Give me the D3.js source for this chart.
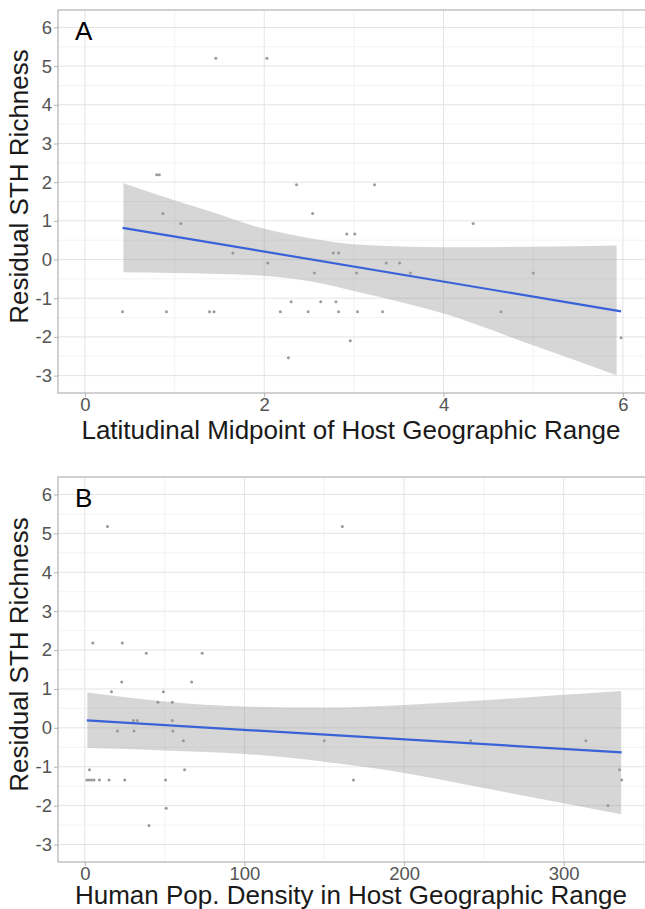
<!DOCTYPE html>
<html lang="en">
<head>
<meta charset="utf-8">
<title>Residual STH Richness</title>
<script src="https://d3js.org/d3.v7.min.js"></script>
<style type="text/css">
  body { margin: 0; background: #fff; }
  svg text { font-family: "Liberation Sans", Arial, sans-serif; }
  .tick-label { fill: #555555; font-size: 18.5px; }
  .axis-title { fill: #1a1a1a; font-size: 26px; }
  .tag { fill: #000; font-size: 26px; }
</style>
</head>
<body>
<div id="chart"></div>
<script type="text/javascript">

  // ---- data ----
  var yTicks = [-3, -2, -1, 0, 1, 2, 3, 4, 5, 6];

  // panel A: latitudinal midpoint
  var latTicks = [0, 2, 4, 6];
  var latX = [1.46, 2.03, 0.80, 0.83, 0.87, 1.07, 1.65, 2.04, 2.36, 2.54,
              2.92, 3.01, 2.77, 2.83, 2.56, 3.03, 0.42, 0.91, 1.39, 1.44,
              2.18, 2.30, 2.49, 2.63, 2.80, 2.83, 3.04, 2.96, 2.27, 3.23,
              4.33, 3.36, 3.51, 3.63, 5.00, 3.32, 4.64, 5.98];
  var latY = [5.20, 5.20, 2.19, 2.19, 1.19, 0.93, 0.17, -0.09, 1.93, 1.19,
              0.66, 0.66, 0.17, 0.17, -0.35, -0.35, -1.35, -1.35, -1.35, -1.35,
              -1.35, -1.09, -1.35, -1.09, -1.09, -1.35, -1.35, -2.10, -2.54, 1.93,
              0.93, -0.09, -0.09, -0.35, -0.35, -1.35, -1.35, -2.02];
  var latFitX = [0.42, 5.98];
  var latFitY = [0.82, -1.34];
  var latBandX  = [0.43, 0.99, 1.40, 1.99, 2.51, 3.07, 3.99, 4.99, 5.93];
  var latBandHi = [1.97, 1.54, 1.24, 0.80, 0.55, 0.38, 0.32, 0.33, 0.36];
  var latBandLo = [-0.33, -0.35, -0.37, -0.42, -0.56, -0.85, -1.39, -2.21, -2.99];

  // panel B: human population density
  var popTicks = [0, 100, 200, 300];
  var popX = [14.2, 161.3, 5.0, 23.5, 38.5, 73.5, 23.1, 66.9, 16.7, 49.2,
              45.8, 54.8, 30.4, 32.9, 54.8, 20.4, 30.8, 55.2, 61.7, 150.0,
              241.7, 313.9, 2.9, 62.5, 335.0, 1.25, 2.7, 4.2, 5.8, 9.2,
              15.2, 25.0, 50.6, 168.3, 336.3, 51.0, 327.7, 40.2];
  var popY = [5.18, 5.18, 2.18, 2.18, 1.92, 1.92, 1.18, 1.18, 0.93, 0.93,
              0.66, 0.66, 0.19, 0.19, 0.19, -0.08, -0.08, -0.08, -0.33, -0.33,
              -0.33, -0.33, -1.08, -1.08, -1.08, -1.34, -1.34, -1.34, -1.34, -1.34,
              -1.34, -1.34, -1.34, -1.34, -1.34, -2.07, -2.00, -2.51];
  var popFitX = [1.25, 336.3];
  var popFitY = [0.19, -0.63];
  var popBandX  = [1.6, 50, 100, 150, 200, 250, 300, 336];
  var popBandHi = [0.91, 0.68, 0.55, 0.52, 0.59, 0.71, 0.85, 0.95];
  var popBandLo = [-0.52, -0.58, -0.67, -0.87, -1.16, -1.55, -1.94, -2.22];

  var width = 645, height = 909;

  var svg = d3.select("#chart").append("svg")
      .attr("width", width)
      .attr("height", height)
      .attr("viewBox", [0, 0, width, height]);

  // plain numbers with a hyphen for negatives, like the original
  var fmt = d => String(d);

  function drawPanel(p) {
    var left = 58, right = 648;
    var x = d3.scaleLinear().domain(p.xDomain).range([left, right]);
    var y = d3.scaleLinear().domain([-3.45, 6.45]).range([p.bottom, p.top]);

    var g = svg.append("g");

    // minor grid
    g.selectAll(".ymin").data(d3.range(-2.5, 6, 1)).enter().append("line")
      .attr("x1", left).attr("x2", right)
      .attr("y1", d => y(d)).attr("y2", d => y(d))
      .attr("stroke", "#f0f0f0").attr("stroke-width", 0.8);
    g.selectAll(".xmin").data(p.xMinor).enter().append("line")
      .attr("x1", d => x(d)).attr("x2", d => x(d))
      .attr("y1", p.top).attr("y2", p.bottom)
      .attr("stroke", "#f0f0f0").attr("stroke-width", 0.8);

    // major grid
    g.selectAll(".ymaj").data(yTicks).enter().append("line")
      .attr("x1", left).attr("x2", right)
      .attr("y1", d => y(d)).attr("y2", d => y(d))
      .attr("stroke", "#e4e4e4").attr("stroke-width", 1);
    g.selectAll(".xmaj").data(p.xTicks).enter().append("line")
      .attr("x1", d => x(d)).attr("x2", d => x(d))
      .attr("y1", p.top).attr("y2", p.bottom)
      .attr("stroke", "#e4e4e4").attr("stroke-width", 1);

    // points
    g.selectAll("circle").data(p.px).enter().append("circle")
      .attr("cx", d => x(d))
      .attr("cy", (d, i) => y(p.py[i]))
      .attr("r", 1.5)
      .attr("fill", "#888888")
      .attr("fill-opacity", 0.85);

    // confidence band
    var area = d3.area()
      .x((d, i) => x(p.bandX[i]))
      .y0((d, i) => y(p.bandLo[i]))
      .y1((d, i) => y(p.bandHi[i]))
      .curve(d3.curveMonotoneX);
    g.append("path")
      .attr("d", area(p.bandX))
      .attr("fill", "#999999")
      .attr("fill-opacity", 0.4);

    // fitted line
    var line = d3.line()
      .x((d, i) => x(p.fitX[i]))
      .y((d, i) => y(p.fitY[i]));
    g.append("path")
      .attr("d", line(p.fitX))
      .attr("fill", "none")
      .attr("stroke", "#3a62d8")
      .attr("stroke-width", 2.2);

    // panel border
    g.append("rect")
      .attr("x", left).attr("y", p.top)
      .attr("width", right - left).attr("height", p.bottom - p.top)
      .attr("fill", "none")
      .attr("stroke", "#b3b3b3").attr("stroke-width", 1.2);

    // axes
    var xAxis = d3.axisBottom(x).tickValues(p.xTicks).tickFormat(fmt).tickSize(4).tickPadding(1);
    var yAxis = d3.axisLeft(y).tickValues(yTicks).tickFormat(fmt).tickSize(4).tickPadding(2);

    var gx = g.append("g").attr("transform", "translate(0," + p.bottom + ")").call(xAxis);
    var gy = g.append("g").attr("transform", "translate(" + left + ",0)").call(yAxis);
    [gx, gy].forEach(function(a) {
      a.attr("font-size", null).attr("font-family", null);
      a.select(".domain").remove();
      a.selectAll(".tick line").attr("stroke", "#b3b3b3");
      a.selectAll(".tick text")
        .attr("class", "tick-label")
        .attr("fill", null);
    });

    // titles
    g.append("text")
      .attr("class", "axis-title")
      .attr("x", (left + right) / 2 - 2)
      .attr("y", p.bottom + p.titleGap)
      .attr("text-anchor", "middle")
      .text(p.xTitle);

    g.append("text")
      .attr("class", "axis-title")
      .attr("transform", "translate(28," + ((p.top + p.bottom) / 2 - 15) + ") rotate(-90)")
      .attr("text-anchor", "middle")
      .text("Residual STH Richness");

    g.append("text")
      .attr("class", "tag")
      .attr("x", 75)
      .attr("y", p.top + 30)
      .text(p.tag);
  }

  drawPanel({
    tag: "A", top: 10, bottom: 393, titleGap: 46,
    xDomain: [-0.3, 6.28], xTicks: latTicks, xMinor: [1, 3, 5],
    px: latX, py: latY,
    fitX: latFitX, fitY: latFitY,
    bandX: latBandX, bandHi: latBandHi, bandLo: latBandLo,
    xTitle: "Latitudinal Midpoint of Host Geographic Range"
  });

  drawPanel({
    tag: "B", top: 477, bottom: 862, titleGap: 41.5,
    xDomain: [-16.8, 352.8], xTicks: popTicks, xMinor: [50, 150, 250, 350],
    px: popX, py: popY,
    fitX: popFitX, fitY: popFitY,
    bandX: popBandX, bandHi: popBandHi, bandLo: popBandLo,
    xTitle: "Human Pop. Density in Host Geographic Range"
  });

</script>
</body>
</html>
